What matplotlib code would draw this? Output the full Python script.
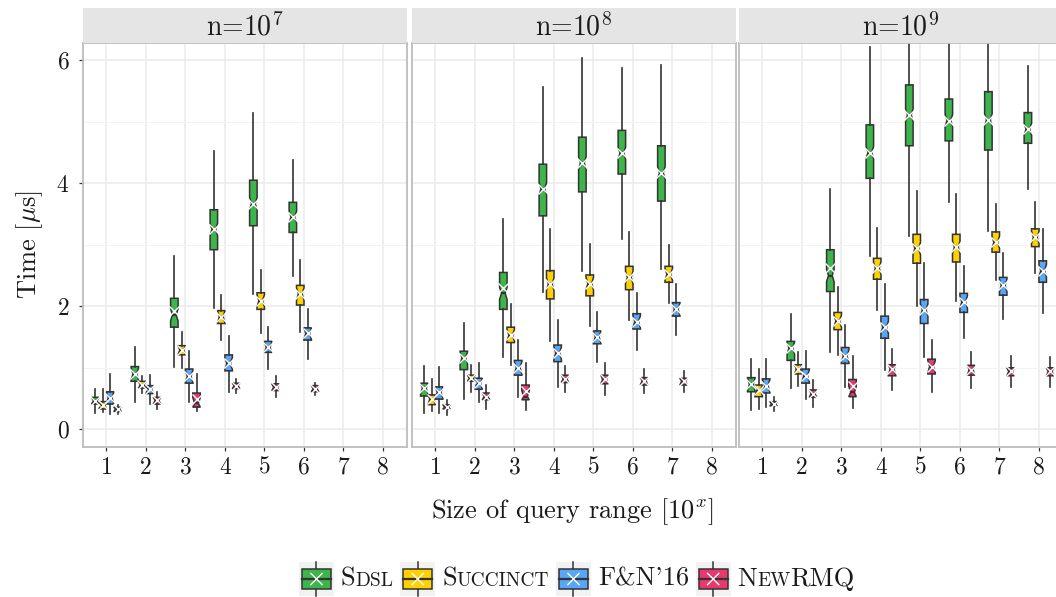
import matplotlib
matplotlib.use("Agg")
import matplotlib.pyplot as plt
from matplotlib.offsetbox import DrawingArea, TextArea, HPacker, AnchoredOffsetbox
from matplotlib.patches import Rectangle
from matplotlib.lines import Line2D

plt.rcParams['font.family'] = ['cmr10']
plt.rcParams['mathtext.fontset'] = 'cm'
plt.rcParams['axes.formatter.use_mathtext'] = True
plt.rcParams['axes.unicode_minus'] = False


# Data: per query size, (whisker low, q1, median, mean, q3, whisker high) in microseconds

SIZES = [1, 2, 3, 4, 5, 6, 7, 8]
FACET_EXP = ['7', '8', '9']
SERIES = ['Sdsl', 'Succinct', "F&N'16", 'NewRMQ']
COLORS = ['#3DB54A', '#FFD100', '#58A6F7', '#E8386D']

SDSL_E7 = [
    (0.26, 0.41, 0.46, 0.46, 0.52, 0.65),
    (0.45, 0.78, 0.90, 0.90, 1.02, 1.34),
    (1.01, 1.66, 1.86, 1.93, 2.13, 2.82),
    (1.97, 2.92, 3.25, 3.25, 3.57, 4.53),
    (2.20, 3.31, 3.67, 3.67, 4.05, 5.15),
    (2.50, 3.20, 3.45, 3.45, 3.69, 4.38),
]
SUCC_E7 = [
    (0.28, 0.33, 0.40, 0.40, 0.45, 0.65),
    (0.59, 0.67, 0.72, 0.72, 0.78, 0.86),
    (1.00, 1.21, 1.29, 1.29, 1.36, 1.58),
    (1.45, 1.72, 1.83, 1.83, 1.93, 2.18),
    (1.56, 1.95, 2.09, 2.09, 2.22, 2.59),
    (1.58, 2.02, 2.20, 2.20, 2.34, 2.75),
]
FN_E7 = [
    (0.25, 0.41, 0.51, 0.51, 0.61, 0.90),
    (0.41, 0.58, 0.65, 0.65, 0.71, 0.88),
    (0.45, 0.75, 0.86, 0.86, 0.98, 1.28),
    (0.60, 0.95, 1.07, 1.07, 1.21, 1.52),
    (0.98, 1.25, 1.33, 1.33, 1.43, 1.67),
    (1.15, 1.45, 1.56, 1.56, 1.65, 1.95),
]
NEW_E7 = [
    (0.25, 0.29, 0.33, 0.33, 0.36, 0.40),
    (0.33, 0.41, 0.47, 0.47, 0.52, 0.60),
    (0.29, 0.36, 0.42, 0.49, 0.59, 0.90),
    (0.59, 0.66, 0.71, 0.71, 0.75, 0.81),
    (0.53, 0.63, 0.68, 0.68, 0.74, 0.87),
    (0.56, 0.61, 0.66, 0.66, 0.71, 0.75),
]

SDSL_E8 = [
    (0.26, 0.54, 0.67, 0.67, 0.75, 1.03),
    (0.50, 0.97, 1.16, 1.16, 1.27, 1.73),
    (1.17, 1.95, 2.21, 2.29, 2.55, 3.42),
    (2.23, 3.47, 3.91, 3.91, 4.31, 5.56),
    (2.58, 3.86, 4.33, 4.33, 4.75, 6.04),
    (3.09, 4.15, 4.49, 4.49, 4.86, 5.88),
    (2.61, 3.71, 4.17, 4.17, 4.61, 5.92),
]
SUCC_E8 = [
    (0.29, 0.40, 0.49, 0.49, 0.56, 0.81),
    (0.61, 0.78, 0.83, 0.83, 0.88, 1.05),
    (1.04, 1.41, 1.53, 1.53, 1.66, 2.03),
    (1.44, 2.12, 2.36, 2.36, 2.58, 3.25),
    (1.68, 2.17, 2.37, 2.37, 2.51, 3.01),
    (1.78, 2.27, 2.47, 2.47, 2.65, 3.20),
    (2.05, 2.39, 2.52, 2.52, 2.65, 3.00),
]
FN_E8 = [
    (0.26, 0.49, 0.60, 0.60, 0.69, 1.02),
    (0.45, 0.65, 0.75, 0.75, 0.83, 1.07),
    (0.53, 0.88, 1.00, 1.00, 1.12, 1.45),
    (0.69, 1.10, 1.24, 1.24, 1.37, 1.78),
    (1.09, 1.39, 1.50, 1.50, 1.60, 1.90),
    (1.29, 1.63, 1.75, 1.75, 1.88, 2.21),
    (1.53, 1.84, 1.95, 1.95, 2.06, 2.36),
]
NEW_E8 = [
    (0.23, 0.33, 0.36, 0.36, 0.40, 0.48),
    (0.33, 0.48, 0.53, 0.53, 0.59, 0.72),
    (0.31, 0.48, 0.53, 0.63, 0.72, 1.08),
    (0.61, 0.76, 0.82, 0.82, 0.88, 1.03),
    (0.56, 0.74, 0.81, 0.81, 0.88, 1.08),
    (0.59, 0.72, 0.79, 0.79, 0.84, 0.98),
    (0.60, 0.72, 0.78, 0.78, 0.83, 0.94),
]

SDSL_E9 = [
    (0.31, 0.61, 0.73, 0.73, 0.84, 1.15),
    (0.67, 1.12, 1.32, 1.32, 1.43, 1.88),
    (1.25, 2.24, 2.50, 2.63, 2.92, 3.90),
    (2.81, 4.08, 4.50, 4.50, 4.95, 6.21),
    (3.15, 4.61, 5.11, 5.11, 5.60, 6.90),
    (3.69, 4.69, 5.02, 5.02, 5.37, 6.80),
    (3.22, 4.54, 5.03, 5.03, 5.49, 6.70),
    (3.91, 4.65, 4.88, 4.88, 5.15, 5.90),
]
SUCC_E9 = [
    (0.33, 0.53, 0.64, 0.64, 0.72, 0.98),
    (0.70, 0.90, 0.98, 0.98, 1.05, 1.25),
    (1.20, 1.62, 1.76, 1.76, 1.90, 2.32),
    (1.94, 2.44, 2.62, 2.62, 2.78, 3.27),
    (2.01, 2.70, 2.94, 2.94, 3.17, 3.87),
    (2.08, 2.72, 2.96, 2.96, 3.17, 3.82),
    (2.43, 2.88, 3.04, 3.04, 3.21, 3.67),
    (2.54, 2.97, 3.12, 3.12, 3.26, 3.70),
]
FN_E9 = [
    (0.36, 0.59, 0.71, 0.71, 0.82, 1.15),
    (0.50, 0.75, 0.87, 0.87, 0.98, 1.27),
    (0.69, 1.07, 1.19, 1.19, 1.33, 1.70),
    (0.97, 1.48, 1.66, 1.66, 1.84, 2.36),
    (1.18, 1.72, 1.94, 1.94, 2.11, 2.70),
    (1.48, 1.90, 2.07, 2.07, 2.21, 2.65),
    (1.79, 2.18, 2.34, 2.34, 2.47, 2.86),
    (1.89, 2.39, 2.58, 2.58, 2.74, 3.25),
]
NEW_E9 = [
    (0.29, 0.38, 0.41, 0.41, 0.45, 0.53),
    (0.36, 0.52, 0.58, 0.58, 0.64, 0.80),
    (0.34, 0.53, 0.60, 0.71, 0.81, 1.19),
    (0.64, 0.87, 0.98, 0.98, 1.05, 1.30),
    (0.60, 0.90, 1.02, 1.02, 1.14, 1.45),
    (0.67, 0.88, 0.97, 0.97, 1.04, 1.25),
    (0.68, 0.87, 0.94, 0.94, 1.00, 1.19),
    (0.68, 0.87, 0.94, 0.94, 1.00, 1.18),
]

FACETS = [
    [SDSL_E7, SUCC_E7, FN_E7, NEW_E7],
    [SDSL_E8, SUCC_E8, FN_E8, NEW_E8],
    [SDSL_E9, SUCC_E9, FN_E9, NEW_E9],
]


# Layout (pixels on a 1056x597 canvas)
W, H = 1056, 597
PANEL_X = [82.7, 411.7, 738.7]
PANEL_W = 324.0
PANEL_TOP, PANEL_BOT = 43.3, 446.7
STRIP_TOP = 8.3

DARK = '#333333'
TXT = '#1A1A1A'
DODGE = [-0.281, -0.094, 0.094, 0.281]
BOX_W = 0.19
NOTCH = 0.1


def box_stats(row):
    lo, q1, med, mean, q3, hi = row
    return dict(whislo=lo, q1=q1, med=med, mean=mean, q3=q3, whishi=hi,
                cilo=max(q1, med - NOTCH), cihi=min(q3, med + NOTCH),
                fliers=[])


fig = plt.figure(figsize=(W / 100, H / 100), dpi=100)

for f, x0 in enumerate(PANEL_X):
    ax = fig.add_axes([x0 / W, 1 - PANEL_BOT / H, PANEL_W / W, (PANEL_BOT - PANEL_TOP) / H])
    ax.set_xlim(0.4, 8.6)
    ax.set_ylim(-0.283, 6.276)
    ax.set_xticks(SIZES)
    ax.set_xticklabels([str(s) for s in SIZES])
    ax.set_yticks([0, 2, 4, 6])
    ax.set_yticks([1, 3, 5], minor=True)
    ax.grid(True, which='major', color='#EBEBEB', lw=1.1, zorder=0)
    ax.grid(True, which='minor', axis='y', color='#F3F3F3', lw=0.7, zorder=0)
    ax.set_axisbelow(True)
    for sp in ax.spines.values():
        sp.set_color('#BDBDBD')
        sp.set_linewidth(1.3)
    ax.tick_params(axis='both', which='major', length=3, width=0.9, color=DARK,
                   labelsize=17, pad=4, labelcolor=TXT)
    ax.tick_params(axis='y', which='major', pad=6.5)
    ax.tick_params(axis='both', which='minor', length=0)
    if f > 0:
        ax.tick_params(axis='y', which='major', length=0, labelleft=False)

    for s, data in enumerate(FACETS[f]):
        stats = [box_stats(r) for r in data]
        pos = [SIZES[i] + DODGE[s] for i in range(len(data))]
        ax.bxp(stats, positions=pos, widths=BOX_W, shownotches=True, showfliers=False,
               showcaps=False, showmeans=True, patch_artist=True,
               boxprops=dict(facecolor=COLORS[s], edgecolor=DARK, linewidth=1.1),
               whiskerprops=dict(color=DARK, linewidth=1.2),
               medianprops=dict(color=DARK, linewidth=1.6),
               meanprops=dict(marker='x', markeredgecolor='white', markersize=7.5,
                              markeredgewidth=1.0),
               manage_ticks=False)

    # facet strip
    sax = fig.add_axes([x0 / W, 1 - PANEL_TOP / H, PANEL_W / W, (PANEL_TOP - STRIP_TOP) / H])
    sax.set_facecolor('#E5E5E5')
    sax.set_xticks([])
    sax.set_yticks([])
    for sp in sax.spines.values():
        sp.set_visible(False)
    sax.text(0.5, 0.45, r'n=$10^{%s}$' % FACET_EXP[f], transform=sax.transAxes,
             ha='center', va='center', fontsize=20, color=TXT)

fig.text(30 / W, 1 - 245 / H, r'Time [$\mu$s]', rotation=90, ha='center', va='center',
         fontsize=19, color=TXT)
fig.text(572 / W, 1 - 512 / H, r'Size of query range [$10^x$]', ha='center', va='center',
         fontsize=19, color=TXT)


# Legend with small-caps style labels
def legend_key(color):
    da = DrawingArea(25, 25, 0, 0)
    da.add_artist(Rectangle((0, 0), 25, 25, facecolor='#F2F2F2', edgecolor='none'))
    da.add_artist(Line2D([12.5, 12.5], [0, 25], color=DARK, lw=1.1))
    da.add_artist(Rectangle((2, 5.5), 21, 14, facecolor=color, edgecolor=DARK, lw=1.1))
    da.add_artist(Line2D([2, 23], [12.5, 12.5], color=DARK, lw=1.6))
    da.add_artist(Line2D([8.5, 16.5], [8.5, 16.5], color='white', lw=1.0))
    da.add_artist(Line2D([8.5, 16.5], [16.5, 8.5], color='white', lw=1.0))
    return da


def smallcaps(parts, big=19, small=14):
    boxes = []
    for txt, is_big in parts:
        boxes.append(TextArea(txt, textprops=dict(fontsize=big if is_big else small,
                                                  color=TXT)))
    return HPacker(children=boxes, sep=0, pad=0, align='baseline')


LABEL_PARTS = [
    [('S', True), ('DSL', False)],
    [('S', True), ('UCCINCT', False)],
    [("F&N'16", True)],
    [('N', True), ('EW', False), ('RMQ', True)],
]

entries = []
for color, parts in zip(COLORS, LABEL_PARTS):
    entries.append(HPacker(children=[legend_key(color), smallcaps(parts)], sep=5, pad=0,
                           align='center'))
legend_box = HPacker(children=entries, sep=5, pad=0, align='center')
anchored = AnchoredOffsetbox(loc='center', child=legend_box, frameon=False, pad=0,
                             bbox_to_anchor=(577 / W, 1 - 579 / H),
                             bbox_transform=fig.transFigure, borderpad=0)
fig.add_artist(anchored)

fig.savefig('out.png', dpi=100)
